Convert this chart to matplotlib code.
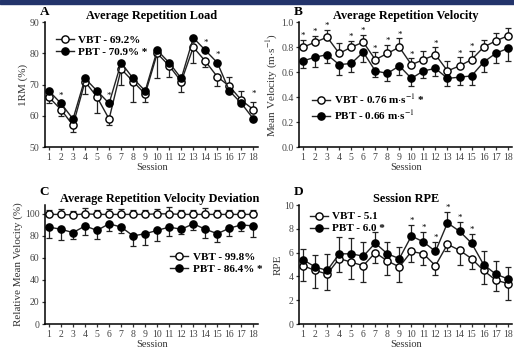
import numpy as np
import matplotlib
matplotlib.use('Agg')
import matplotlib.pyplot as plt
from matplotlib.patches import Rectangle

plt.rcParams['font.family'] = ['Liberation Serif', 'DejaVu Serif']
plt.rcParams['mathtext.fontset'] = 'stix'

sessions = np.arange(1, 19)
session_labels = [str(s) for s in sessions]

# A - average repetition load (%1RM)
load_vbt = [66, 62, 57, 71, 66, 59, 75, 71, 67, 80, 76, 71, 82, 77.5, 72.5, 69.5, 65, 62]
load_vbt_lo = [2, 2, 2, 4, 5, 2, 5, 6.5, 2.5, 8, 3.5, 3.5, 5, 2, 3, 0, 0, 0]
load_vbt_hi = [0, 0, 0, 0, 0, 0, 0, 0, 0, 0, 0, 0, 0, 0, 0, 3, 3, 2.5]
load_pbt = [68, 64, 59, 72, 68, 64, 77, 72, 68, 81, 77, 72, 85, 81, 77, 68, 64, 59]
load_sig = [2, 6, 14, 15, 18]

# B - mean velocity (m/s)
vel_vbt = [0.80, 0.84, 0.88, 0.75, 0.80, 0.84, 0.70, 0.75, 0.80, 0.66, 0.70, 0.74,
           0.61, 0.65, 0.70, 0.80, 0.85, 0.89]
vel_vbt_hi = [0.06, 0.05, 0.06, 0.08, 0.05, 0.06, 0.06, 0.07, 0.07, 0.05, 0.07, 0.06,
              0.08, 0.07, 0.07, 0.06, 0.06, 0.06]
vel_pbt = [0.69, 0.72, 0.74, 0.66, 0.67, 0.76, 0.61, 0.59, 0.65, 0.55, 0.61, 0.63,
           0.55, 0.56, 0.57, 0.68, 0.75, 0.79]
vel_pbt_lo = [0.06, 0.08, 0.07, 0.08, 0.07, 0.08, 0.05, 0.06, 0.07, 0.06, 0.06, 0.06,
              0.06, 0.06, 0.07, 0.08, 0.08, 0.10]
vel_sig = [1, 2, 3, 5, 6, 7, 8, 9, 10, 12, 14, 15]

# C - relative mean velocity (%)
dev_vbt = [99.5, 99.5, 99, 100, 99.5, 99.5, 99.5, 99.5, 99.5, 100, 100, 99.5,
           99.5, 99.5, 99.5, 99.5, 99.5, 99.5]
dev_vbt_hi = [4, 5, 4, 5, 4, 5, 5, 4, 4, 4, 6, 4, 4, 6, 4, 4, 4, 4]
dev_pbt = [88, 86, 83, 89, 85, 91, 88, 80, 82, 85, 88, 86, 91, 86, 82, 87, 90, 89]
dev_pbt_lo = [10, 10, 6, 8, 8, 7, 5, 9, 10, 10, 8, 4, 6, 8, 8, 7, 6, 10]

# D - session RPE
rpe_vbt = [4.9, 4.5, 4.2, 5.5, 5.2, 4.9, 6.0, 5.3, 4.8, 6.1, 5.9, 4.9, 6.7, 6.2, 5.5, 4.5, 3.7, 3.4]
rpe_vbt_lo = [1.3, 1.5, 1.3, 1.1, 1.4, 1.4, 0.9, 1.2, 1.3, 0.9, 0.9, 0.8, 0.6, 1.2, 0.9, 1.1, 0.9, 1.4]
rpe_pbt = [5.4, 4.8, 4.5, 5.9, 5.9, 5.7, 6.8, 5.9, 5.5, 7.4, 6.9, 6.1, 8.5, 7.8, 6.8, 5.0, 4.2, 3.8]
rpe_pbt_hi = [0.9, 1.0, 1.4, 1.4, 1.3, 1.2, 0.9, 1.0, 1.0, 0.9, 0.8, 0.8, 0.9, 0.8, 0.8, 1.1, 1.1, 1.0]
rpe_sig = [10, 11, 12, 13, 14, 15]

fig = plt.figure(figsize=(5.14, 3.52), dpi=100)
fig.patches.append(Rectangle((0, 0.99), 1, 0.01, transform=fig.transFigure,
                             color='#23346b', zorder=10))

ax_a = fig.add_axes([0.0875, 0.582, 0.415, 0.355])
ax_b = fig.add_axes([0.582, 0.582, 0.415, 0.355])
ax_c = fig.add_axes([0.0875, 0.0795, 0.415, 0.338])
ax_d = fig.add_axes([0.582, 0.0795, 0.415, 0.338])


def draw_series(ax, y, lo, hi, filled, label):
    lo = np.asarray(lo, dtype=float)
    hi = np.asarray(hi, dtype=float)
    ax.errorbar(sessions, y, yerr=[lo, hi], fmt='none', ecolor='#222222',
                elinewidth=0.9, capsize=2.2, capthick=0.9, zorder=2)
    ax.plot(sessions, y, color='#222222', lw=1.0, marker='o', ms=5.2,
            mfc='black' if filled else 'white', mec='black', mew=1.0,
            label=label, zorder=3)


def style(ax, ylim, yticks, ylabel, title, letter, title_x=0.5, letter_y=1.16):
    ax.set_xlim(0.67, 18.4)
    ax.set_ylim(*ylim)
    ax.set_yticks(yticks)
    ax.set_xticks(sessions)
    ax.set_xticklabels(session_labels)
    for s in ['top', 'right']:
        ax.spines[s].set_visible(False)
    for s in ['left', 'bottom']:
        ax.spines[s].set_linewidth(1.1)
    ax.tick_params(axis='both', direction='out', length=2.5, width=0.9,
                   labelsize=7, pad=1.5, colors='#333333', labelcolor='#444444')
    ax.set_xlabel('Session', fontsize=7.5, labelpad=1, color='#333333')
    ax.set_ylabel(ylabel, fontsize=8, labelpad=1, color='#333333')
    ax.set_title(title, fontsize=8.8, fontweight='bold', pad=2, x=title_x)
    ax.text(-0.025, letter_y, letter, transform=ax.transAxes, fontsize=9.5,
            fontweight='bold', ha='left', va='top')


def stars(ax, idx, top, off):
    for s in idx:
        ax.text(s, top[s - 1] + off, '*', ha='center', va='center', fontsize=6.5)


# A
draw_series(ax_a, load_vbt, load_vbt_lo, load_vbt_hi, False, 'VBT - 69.2%')
draw_series(ax_a, load_pbt, np.zeros(18), np.zeros(18), True, 'PBT - 70.9% *')
style(ax_a, (50, 90), [50, 60, 70, 80, 90], '1RM (%)', 'Average Repetition Load', 'A',
      letter_y=1.13)
stars(ax_a, load_sig, np.maximum(np.array(load_pbt), np.array(load_vbt) + np.array(load_vbt_hi)), 2.5)

# B
draw_series(ax_b, vel_vbt, np.zeros(18), vel_vbt_hi, False, r'VBT - 0.76 m$\cdot$s$^{-1}$ *')
draw_series(ax_b, vel_pbt, vel_pbt_lo, np.zeros(18), True, r'PBT - 0.66 m$\cdot$s$^{-1}$')
style(ax_b, (0, 1.0), [0.0, 0.2, 0.4, 0.6, 0.8, 1.0], r'Mean Velocity (m$\cdot$s$^{-1}$)',
      'Average Repetition Velocity', 'B', letter_y=1.13)
stars(ax_b, vel_sig, np.array(vel_vbt) + np.array(vel_vbt_hi), 0.03)

# C
draw_series(ax_c, dev_vbt, np.zeros(18), dev_vbt_hi, False, 'VBT - 99.8%')
draw_series(ax_c, dev_pbt, dev_pbt_lo, np.zeros(18), True, 'PBT - 86.4% *')
style(ax_c, (0, 108), [0, 20, 40, 60, 80, 100], 'Relative Mean Velocity (%)',
      'Average Repetition Velocity Deviation', 'C', title_x=0.54)

# D
draw_series(ax_d, rpe_vbt, rpe_vbt_lo, np.zeros(18), False, 'VBT - 5.1')
draw_series(ax_d, rpe_pbt, np.zeros(18), rpe_pbt_hi, True, 'PBT - 6.0 *')
style(ax_d, (0, 10), [0, 2, 4, 6, 8, 10], 'RPE', 'Session RPE', 'D')
stars(ax_d, rpe_sig, np.array(rpe_pbt) + np.array(rpe_pbt_hi), 0.35)

leg_kw = dict(frameon=False, prop={'weight': 'bold', 'size': 8}, handlelength=1.6,
              handletextpad=0.4, labelspacing=0.2, borderaxespad=0.2)
ax_a.legend(loc='upper left', bbox_to_anchor=(0.02, 0.95), **leg_kw)
ax_b.legend(loc='lower left', bbox_to_anchor=(0.03, 0.15), **leg_kw)
ax_c.legend(loc='center right', bbox_to_anchor=(1.05, 0.51), **leg_kw)
ax_d.legend(loc='upper left', bbox_to_anchor=(0.02, 1.0), **leg_kw)

fig.savefig('out.png', dpi=100)
